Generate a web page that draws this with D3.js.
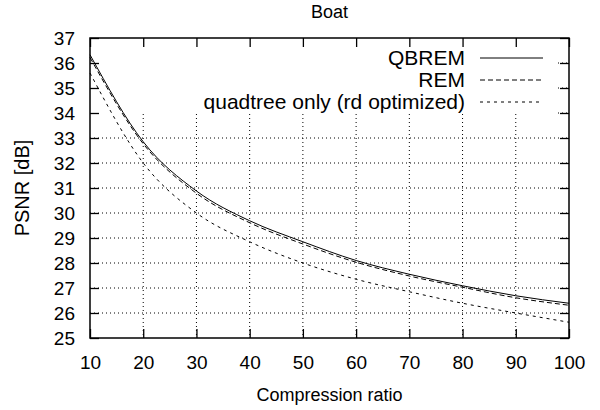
<!DOCTYPE html>
<html lang="en">
<head>
    <meta charset="UTF-8">
    <title>Boat</title>
    <script src="https://d3js.org/d3.v7.min.js"></script>
</head>
<style>
    body { margin: 0; background: #fff; }
    text { font-family: "Liberation Sans", Arial, sans-serif; fill: #000; }
    .grid line { stroke: #000; stroke-width: 1; stroke-dasharray: 1,3; }
</style>
<body>
<div class="chart"></div>
<script>
    // compression ratio samples and PSNR values
    var ratios   = [10, 20, 30, 40, 50, 60, 70, 80, 90, 100];
    var qbrem    = [36.33, 32.85, 30.88, 29.69, 28.85, 28.10, 27.55, 27.09, 26.69, 26.39];
    var rem      = [36.22, 32.77, 30.79, 29.61, 28.76, 28.03, 27.48, 27.03, 26.61, 26.31];
    var quadtree = [35.60, 32.00, 30.00, 28.85, 28.00, 27.35, 26.85, 26.39, 26.00, 25.63];

    var xTicks = [10, 20, 30, 40, 50, 60, 70, 80, 90, 100];
    var yTicks = [25, 26, 27, 28, 29, 30, 31, 32, 33, 34, 35, 36, 37];

    var seriesNames = ["QBREM", "REM", "quadtree only (rd optimized)"];
    var seriesData = [qbrem, rem, quadtree];
    var dashes = [null, "5,3", "3,4"];

    var width = 600, height = 410;
    var margin = {top: 38, right: 31, bottom: 72, left: 90};
    var w = width - margin.left - margin.right;
    var h = height - margin.top - margin.bottom;

    var svg = d3.select(".chart").append("svg")
        .attr("width", width)
        .attr("height", height);

    var g = svg.append("g")
        .attr("transform", "translate(" + margin.left + "," + margin.top + ")");

    var x = d3.scaleLinear().domain([10, 100]).range([0, w]);
    var y = d3.scaleLinear().domain([25, 37]).range([h, 0]);

    // grid
    var grid = g.append("g").attr("class", "grid");
    grid.selectAll(".vx").data(xTicks.slice(1, -1)).enter().append("line")
        .attr("x1", function(d) { return x(d); }).attr("x2", function(d) { return x(d); })
        .attr("y1", 0).attr("y2", h);
    grid.selectAll(".hy").data(yTicks.slice(1, -1)).enter().append("line")
        .attr("x1", 0).attr("x2", w)
        .attr("y1", function(d) { return y(d); }).attr("y2", function(d) { return y(d); });

    // key background hides the grid behind it
    g.append("rect")
        .attr("x", 0).attr("y", 0)
        .attr("width", 465).attr("height", 76)
        .attr("fill", "#fff");

    // axes, ticks inward and mirrored
    var tickLen = 9;
    g.append("g")
        .attr("transform", "translate(0," + h + ")")
        .call(d3.axisBottom(x).tickValues(xTicks).tickSize(-tickLen).tickPadding(18))
        .call(styleAxis);
    g.append("g")
        .call(d3.axisTop(x).tickValues(xTicks).tickSize(-tickLen).tickFormat(""))
        .call(styleAxis);
    g.append("g")
        .call(d3.axisLeft(y).tickValues(yTicks).tickSize(-tickLen).tickPadding(15))
        .call(styleAxis);
    g.append("g")
        .attr("transform", "translate(" + w + ",0)")
        .call(d3.axisRight(y).tickValues(yTicks).tickSize(-tickLen).tickFormat(""))
        .call(styleAxis);

    function styleAxis(sel) {
        sel.select(".domain").remove();
        sel.selectAll(".tick line").attr("stroke", "#000").attr("stroke-width", 1.3);
        sel.selectAll(".tick text")
            .style("font-size", "19px")
            .style("font-family", "'Liberation Sans', Arial, sans-serif");
    }

    // curves
    var line = d3.line()
        .x(function(d) { return x(d[0]); })
        .y(function(d) { return y(d[1]); })
        .curve(d3.curveMonotoneX);

    seriesData.forEach(function(vals, i) {
        g.append("path")
            .datum(ratios.map(function(r, j) { return [r, vals[j]]; }))
            .attr("fill", "none")
            .attr("stroke", "#000")
            .attr("stroke-width", 1)
            .attr("stroke-dasharray", dashes[i])
            .attr("d", line);
    });

    // border
    g.append("rect")
        .attr("width", w).attr("height", h)
        .attr("fill", "none")
        .attr("stroke", "#000")
        .attr("stroke-width", 1.5);

    // legend
    var key = g.append("g");
    seriesNames.forEach(function(name, i) {
        var ky = 20 + i * 22;
        key.append("text")
            .attr("x", 375).attr("y", ky)
            .attr("dy", "0.35em")
            .attr("text-anchor", "end")
            .style("font-size", "21px")
            .text(name);
        key.append("line")
            .attr("x1", 390).attr("x2", 453)
            .attr("y1", ky).attr("y2", ky)
            .attr("stroke", "#000")
            .attr("stroke-width", 1)
            .attr("stroke-dasharray", dashes[i]);
    });

    // titles
    svg.append("text")
        .attr("x", margin.left + w / 2).attr("y", 18)
        .attr("text-anchor", "middle")
        .style("font-size", "18px")
        .text("Boat");

    svg.append("text")
        .attr("x", margin.left + w / 2).attr("y", 401)
        .attr("text-anchor", "middle")
        .style("font-size", "18px")
        .text("Compression ratio");

    svg.append("text")
        .attr("transform", "translate(29," + (margin.top + h / 2) + ") rotate(-90)")
        .attr("text-anchor", "middle")
        .style("font-size", "20px")
        .text("PSNR [dB]");
</script>
</body>
</html>
